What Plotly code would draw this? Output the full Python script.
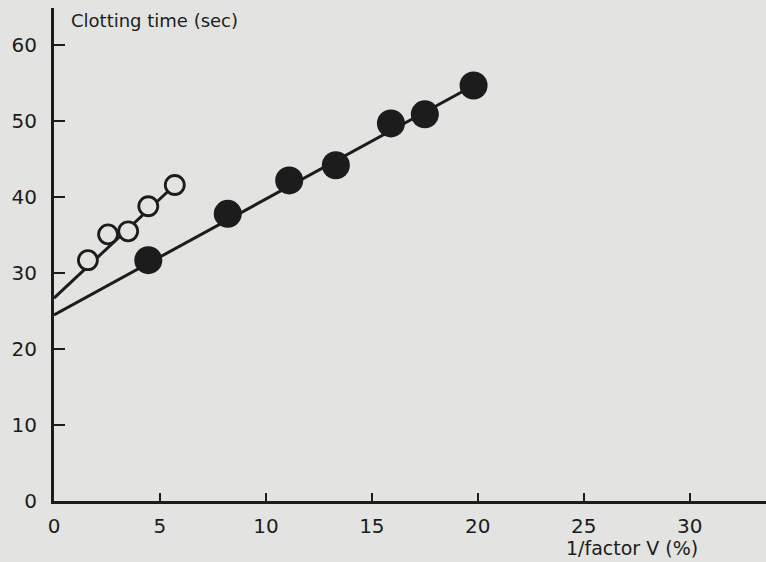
import plotly.graph_objects as go

# Data
open_x = [1.6, 2.55, 3.5, 4.45, 5.7]
open_y = [31.7, 35.1, 35.5, 38.8, 41.6]
filled_x = [4.45, 8.2, 11.1, 13.3, 15.9, 17.5, 19.8]
filled_y = [31.7, 37.8, 42.2, 44.2, 49.7, 50.9, 54.7]
# regression lines (endpoints)
open_line_x = [0, 5.7]
open_line_y = [26.7, 41.6]
filled_line_x = [0, 19.8]
filled_line_y = [24.5, 54.7]

x_ticks = [0, 5, 10, 15, 20, 25, 30]
y_ticks = [0, 10, 20, 30, 40, 50, 60]

ink = "#1c1c1c"
bg = "#e3e3e1"

fig = go.Figure()
fig.add_trace(go.Scatter(x=filled_line_x, y=filled_line_y, mode="lines",
                         line=dict(color=ink, width=3), showlegend=False, hoverinfo="skip"))
fig.add_trace(go.Scatter(x=open_line_x, y=open_line_y, mode="lines",
                         line=dict(color=ink, width=3), showlegend=False, hoverinfo="skip"))
fig.add_trace(go.Scatter(x=open_x, y=open_y, mode="markers",
                         marker=dict(size=19, color=bg, line=dict(color=ink, width=2.8)),
                         showlegend=False))
fig.add_trace(go.Scatter(x=filled_x, y=filled_y, mode="markers",
                         marker=dict(size=28, color=ink, line=dict(color=ink, width=0)),
                         showlegend=False))

font = dict(family="DejaVu Sans, Liberation Sans, sans-serif", color=ink)

fig.update_layout(
    width=766, height=562,
    margin=dict(l=54, r=0, t=8, b=61),
    paper_bgcolor=bg, plot_bgcolor=bg,
    font=dict(**font, size=20),
    xaxis=dict(range=[0, 33.6], tickvals=x_ticks, ticktext=[str(v) for v in x_ticks],
               showgrid=False, zeroline=False, showline=True, linecolor=ink, linewidth=3,
               ticks="inside", ticklen=8, tickwidth=2, tickcolor=ink,
               tickfont=dict(size=20), ticklabelstandoff=5),
    yaxis=dict(range=[0, 64.9], tickvals=y_ticks, ticktext=[str(v) for v in y_ticks],
               showgrid=False, zeroline=False, showline=True, linecolor=ink, linewidth=3,
               ticks="inside", ticklen=11, tickwidth=2, tickcolor=ink,
               tickfont=dict(size=20), ticklabelstandoff=10),
    annotations=[
        dict(text="Clotting time (sec)", xref="paper", yref="paper", x=0.021, y=1.0,
             xanchor="left", yanchor="top", showarrow=False, font=dict(size=18, **font)),
        dict(text="1/factor V (%)", xref="paper", yref="paper", x=0.907, y=-0.095,
             xanchor="right", yanchor="middle", showarrow=False, font=dict(size=19, **font)),
    ],
)

fig.write_html("out.html")
